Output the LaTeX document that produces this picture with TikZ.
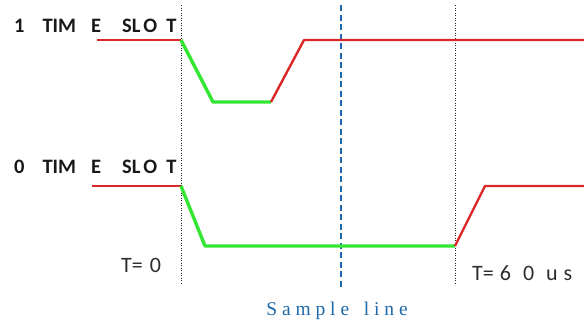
\documentclass[tikz,border=0pt]{standalone}
\usepackage{fontspec}
\setmainfont{Carlito}
\newfontfamily\serifb{Liberation Serif}
\definecolor{sigred}{RGB}{218,40,40}
\definecolor{siggreen}{RGB}{50,230,50}
\definecolor{sampblue}{RGB}{30,105,170}
\definecolor{txtgray}{RGB}{45,45,45}
\tikzset{
  redsig/.style={draw=sigred, line width=2.4pt, line join=round},
  greensig/.style={draw=siggreen, line width=3.4pt, line join=round},
  tmark/.style={draw=black!85, line width=1pt, dash pattern=on 1.3pt off 1.2pt},
  sline/.style={draw=sampblue, line width=2pt, dash pattern=on 6pt off 3.5pt},
  slotlabel/.style={font=\fontsize{20.5}{20.5}\selectfont\bfseries, text=black!90, anchor=base west, inner sep=0pt},
  tlabel/.style={font=\fontsize{22}{22}\selectfont, text=txtgray, anchor=base west, inner sep=0pt},
  samplabel/.style={font=\serifb\fontsize{19.5}{19.5}\selectfont, text=sampblue, inner sep=0pt}
}
\begin{document}
\begin{tikzpicture}[x=1pt,y=-1pt]
\useasboundingbox (0,0) rectangle (584,327);
% vertical markers
\coordinate (m0t) at (181,5);   \coordinate (m0b) at (181,285);
\coordinate (m1t) at (455,5);   \coordinate (m1b) at (455,285);
\coordinate (st) at (341,5);    \coordinate (sb) at (341,287);
\draw[tmark] (m0t) -- (m0b);
\draw[tmark] (m1t) -- (m1b);
\draw[sline] (st) -- (sb);
% labels
\node[slotlabel] (l1) at (14,32) {1\hspace{18pt}TIM\hspace{15pt}E\hspace{21pt}SL\hspace{3pt}O\hspace{9pt}T};
\node[slotlabel] (l0) at (14,173) {0\hspace{18pt}TIM\hspace{15pt}E\hspace{21pt}SL\hspace{3pt}O\hspace{9pt}T};
\node[tlabel] (t0) at (121,272) {T=\hspace{7pt}0};
\node[tlabel] (t60) at (472,280) {T=\hspace{6pt}6\hspace{12pt}0\hspace{12pt}u\hspace{6pt}s};
\node[samplabel] (samp) at (337,311) {S a m\ p l e\ \ \ l i n e};
% top waveform
\coordinate (a0) at (97,40);  \coordinate (a1) at (181,40);
\coordinate (a2) at (213,102); \coordinate (a3) at (271,102);
\coordinate (a4) at (304,40); \coordinate (a5) at (584,40);
\draw[redsig] (a0) -- (a1);
\draw[greensig] (a1) -- (a2) -- (a3);
\draw[redsig] (a3) -- (a4) -- (a5);
% bottom waveform
\coordinate (b0) at (92,186); \coordinate (b1) at (181,186);
\coordinate (b2) at (205,246); \coordinate (b3) at (455,246);
\coordinate (b4) at (485,186); \coordinate (b5) at (584,186);
\draw[redsig] (b0) -- (b1);
\draw[greensig] (b1) -- (b2) -- (b3);
\draw[redsig] (b3) -- (b4) -- (b5);
\end{tikzpicture}
\end{document}
